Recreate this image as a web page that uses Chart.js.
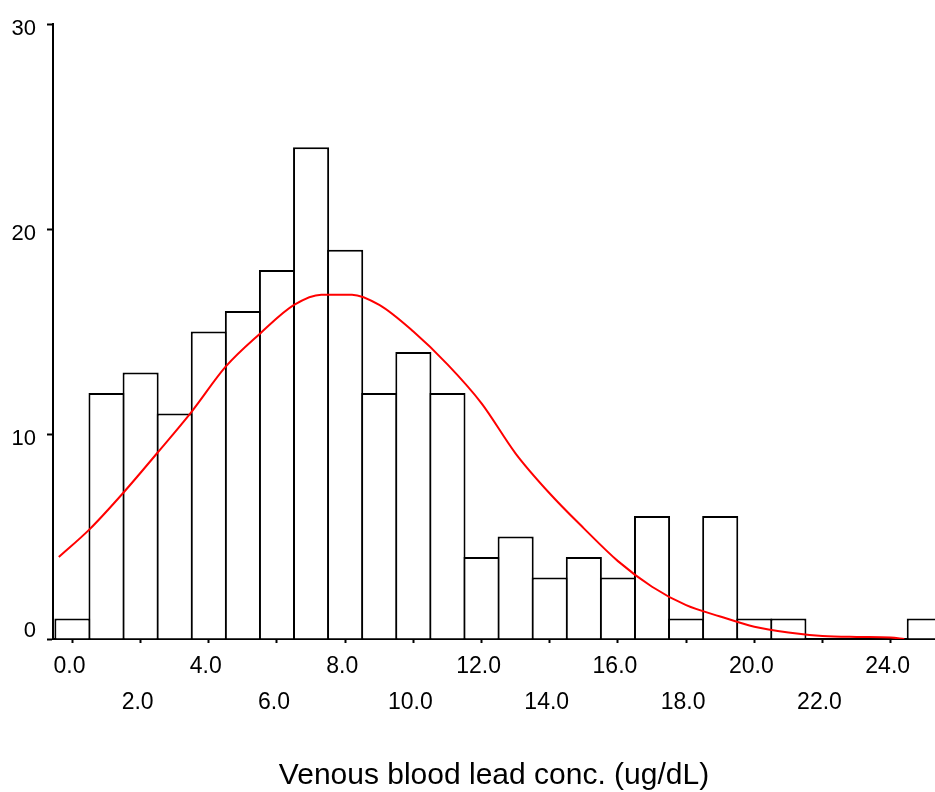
<!DOCTYPE html>
<html>
<head>
<meta charset="utf-8">
<script src="https://cdn.jsdelivr.net/npm/chart.js@4"></script>
<style>
  body { margin: 0; background: #fff; }
  #wrap { width: 935px; height: 792px; }
</style>
</head>
<body>
<div id="wrap"><canvas id="myChart" width="935" height="792"></canvas></div>
<script>
// histogram bins (centres, ug/dL) and counts
const binCenters = [0, 1, 2, 3, 4, 5, 6, 7, 8, 9, 10, 11, 12, 13, 14, 15, 16, 17, 18, 19, 20, 21, 22, 23, 24, 25];
const counts = [1, 12, 13, 11, 15, 16, 18, 24, 19, 12, 14, 12, 4, 5, 3, 4, 3, 6, 1, 6, 1, 1, 0, 0, 0, 1];

// fitted curve
const curveX = [-0.4, 0.5, 1.5, 2.5, 3.5, 4.5, 5.5, 6.5, 7.3, 8.2, 9.0, 10.0, 11.0, 12.0, 13.0, 14.0, 15.0, 16.0, 17.0, 18.0, 19.0, 20.0, 21.0, 22.0, 23.0, 24.0, 24.4];
const curveY = [4.0, 5.35, 7.15, 9.1, 11.1, 13.3, 14.9, 16.3, 16.8, 16.8, 16.3, 15.0, 13.4, 11.5, 9.05, 7.1, 5.4, 3.8, 2.55, 1.65, 1.1, 0.6, 0.32, 0.15, 0.1, 0.07, 0];

const xTicks = [0, 2, 4, 6, 8, 10, 12, 14, 16, 18, 20, 22, 24];
const yTicks = [0, 10, 20, 30];

const fontFamily = "'Liberation Sans', Arial, sans-serif";

const chart = new Chart(document.getElementById("myChart"), {
  type: "bar",
  data: {
    datasets: [
      {
        type: "line",
        label: "Fit",
        data: curveX.map((x, i) => ({ x: x, y: curveY[i] })),
        borderColor: "#ff0000",
        borderWidth: 2,
        pointRadius: 0,
        cubicInterpolationMode: "monotone",
        fill: false,
        order: 0,
      },
      {
        label: "Count",
        data: binCenters.map((x, i) => ({ x: x, y: counts[i] || null })),
        backgroundColor: "#ffffff",
        borderColor: "#000000",
        borderWidth: 2,
        barPercentage: 1.0587,
        categoryPercentage: 1,
        order: 1,
      },
    ],
  },
  options: {
    responsive: false,
    animation: false,
    events: [],
    layout: { padding: { top: 20, right: 0, left: 0, bottom: 0 } },
    plugins: {
      legend: { display: false },
      tooltip: { enabled: false },
    },
    scales: {
      x: {
        type: "linear",
        offset: false,
        min: -0.57,
        max: 25.3,
        afterBuildTicks: (scale) => {
          scale.ticks = xTicks.map((v) => ({ value: v }));
        },
        afterFit: (scale) => {
          scale.height = 153;
        },
        ticks: {
          autoSkip: false,
          maxRotation: 0,
          padding: 6,
          labelOffset: -3,
          color: "#000",
          font: { family: fontFamily, size: 23, lineHeight: 1.565 },
          callback: (value, index) =>
            index % 2 === 0 ? value.toFixed(1) : ["", value.toFixed(1)],
        },
        grid: {
          offset: false,
          drawOnChartArea: false,
          drawTicks: true,
          tickLength: 4,
          tickWidth: 2,
          tickColor: "#000",
        },
        border: { display: true, color: "#000", width: 2 },
        title: {
          display: true,
          text: "Venous blood lead conc. (ug/dL)",
          color: "#000",
          font: { family: fontFamily, size: 30, lineHeight: 1.093 },
          padding: 0,
        },
      },
      y: {
        min: 0,
        max: 30,
        afterBuildTicks: (scale) => {
          scale.ticks = yTicks.map((v) => ({ value: v }));
        },
        afterFit: (scale) => {
          scale.width = 53;
        },
        ticks: {
          padding: 11,
          labelOffset: 5,
          color: "#000",
          font: { family: fontFamily, size: 22, lineHeight: 1.2 },
          callback: (value) => (value === 0 ? ["0", ""] : String(value)),
        },
        grid: {
          drawOnChartArea: false,
          drawTicks: true,
          tickLength: 6,
          tickWidth: 2,
          tickColor: "#000",
        },
        border: { display: true, color: "#000", width: 2 },
      },
    },
  },
});
</script>
</body>
</html>
